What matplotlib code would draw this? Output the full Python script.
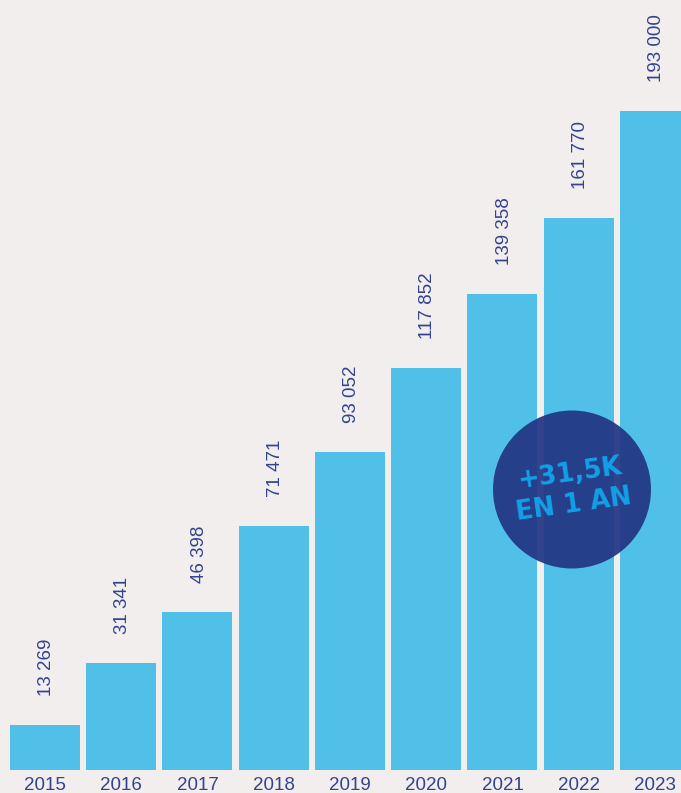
import matplotlib
matplotlib.use("Agg")
import matplotlib.pyplot as plt
from matplotlib.patches import Ellipse

years = ["2015", "2016", "2017", "2018", "2019", "2020", "2021", "2022", "2023"]
values = [13269, 31341, 46398, 71471, 93052, 117852, 139358, 161770, 193000]
labels = ["13 269", "31 341", "46 398", "71 471", "93 052", "117 852", "139 358", "161 770", "193 000"]

bg = "#F2EEED"
bar_c = "#50C0E8"
txt_c = "#33438F"

W, H = 681, 793
fig = plt.figure(figsize=(W / 100, H / 100), dpi=100, facecolor=bg)
ax = fig.add_axes([0, 23 / H, 1, 770 / H])
ax.set_facecolor(bg)

x = list(range(len(years)))
ax.bar(x, values, width=0.918, color=bar_c)
ax.set_xlim(-0.59, 8.341)
ax.set_ylim(0, 225480)

for xi, v, lab in zip(x, values, labels):
    ax.annotate(lab, (xi + 0.02, v), xytext=(0, 29), textcoords="offset pixels",
                rotation=90, ha="center", va="bottom", fontsize=13.5,
                color=txt_c, family="Liberation Sans")

ax.set_xticks(x)
ax.set_xticklabels(years, fontsize=13.5, color=txt_c, family="Liberation Sans")
ax.tick_params(axis="x", length=0, pad=5)
ax.set_yticks([])
for s in ax.spines.values():
    s.set_visible(False)

cx, cy, r = 572, 489.5, 79
fig.patches.append(Ellipse((cx / W, 1 - cy / H), 2 * r / W, 2 * r / H,
                           transform=fig.transFigure, facecolor="#233584",
                           alpha=0.93, edgecolor="none", zorder=5))
fig.text(cx / W, 1 - cy / H, "+31,5K\nEN 1 AN", ha="center", va="center",
         rotation=8, fontsize=18.5, fontweight="heavy", color="#12A0E6",
         family="DejaVu Sans", linespacing=1.3, zorder=6)

fig.savefig("out.png", dpi=100, facecolor=bg)
